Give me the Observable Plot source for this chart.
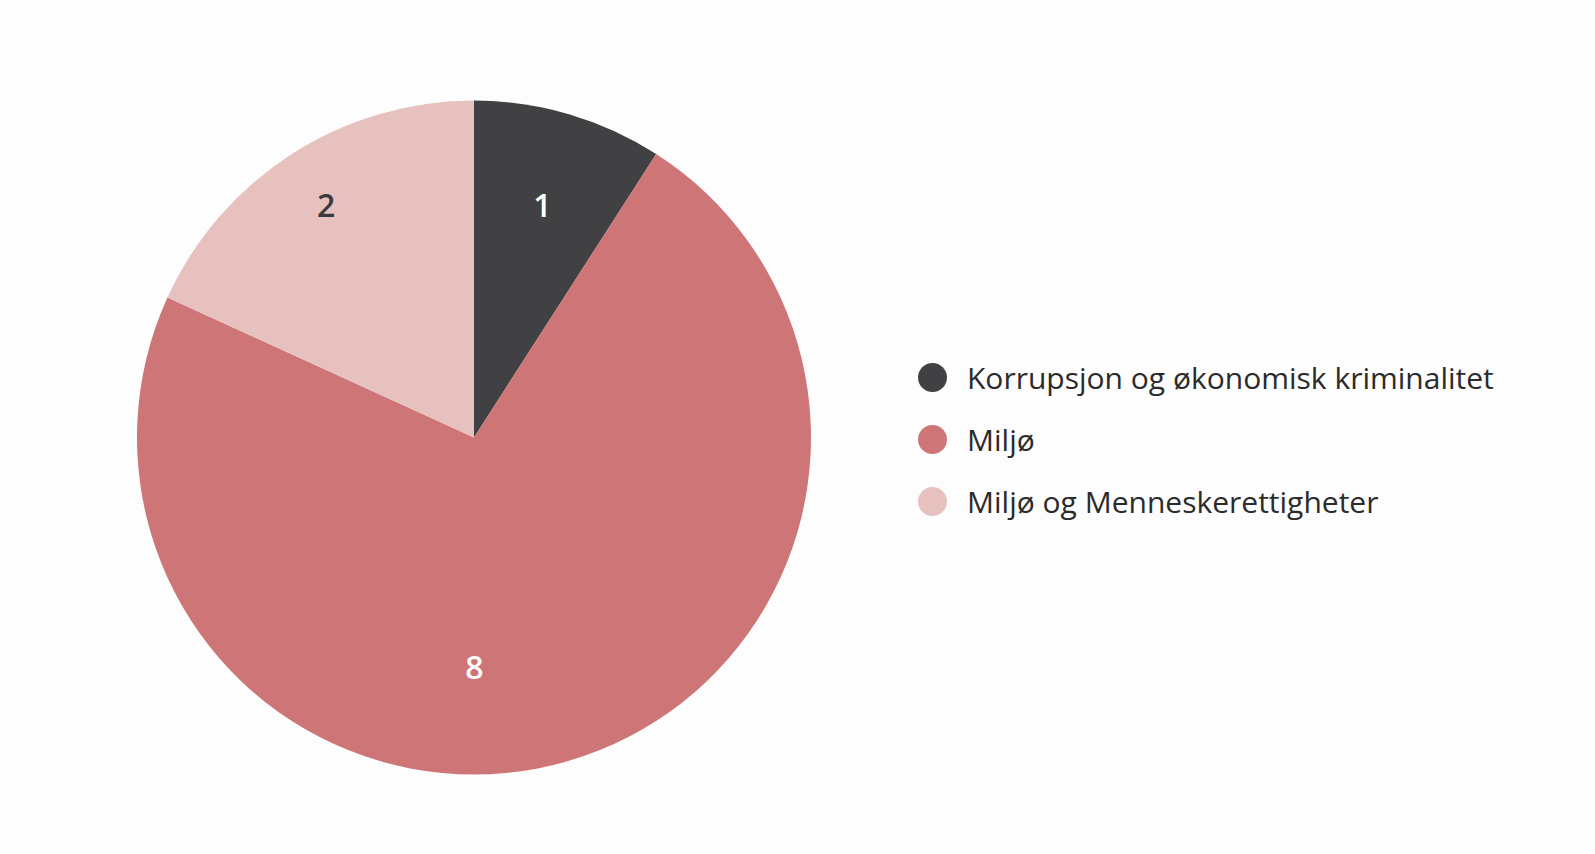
<!DOCTYPE html>
<html>
<head>
<meta charset="utf-8">
<script src="https://cdn.jsdelivr.net/npm/d3@7"></script>
<script src="https://cdn.jsdelivr.net/npm/@observablehq/plot@0.6"></script>
<style>
  html, body { margin: 0; padding: 0; background: #fdfdfd; }
  #wrap { position: relative; width: 1595px; height: 854px; font-family: "Open Sans", sans-serif; }
  #legend { position: absolute; left: 918px; top: 346px; color: #2b2b2b; font-size: 30px; }
  .row { display: flex; align-items: center; height: 62px; }
  .sw { width: 29px; height: 29px; border-radius: 50%; margin-right: 20px; flex: none; }
</style>
</head>
<body>
<div id="wrap"><div id="chart"></div><div id="legend"></div></div>
<script>
const categories = ["Korrupsjon og økonomisk kriminalitet", "Miljø", "Miljø og Menneskerettigheter"];
const values = [1, 8, 2];
const colors = ["#414143", "#ce7677", "#e7c1be"];
const labelColors = ["#ffffff", "#ffffff", "#3a3a3a"];

const data = categories.map((c, i) => ({category: c, value: values[i], labelColor: labelColors[i]}));
const arcs = d3.pie().sort(null).value(d => d.value)(data);

// label placement: along the slice's mid-angle ray, on a horizontal band at ±0.685 r;
// a slice spanning the bottom gets its label straight below the centre
const band = 0.685;
const labels = arcs.map(a => {
  const big = a.endAngle - a.startAngle > Math.PI && a.startAngle < Math.PI && a.endAngle > Math.PI;
  const ang = big ? Math.PI : (a.startAngle + a.endAngle) / 2;
  const k = band / Math.abs(Math.cos(ang));
  return {x: Math.sin(ang) * k, y: Math.cos(ang) * k, text: String(a.data.value), fill: a.data.labelColor};
});

function pieMark(index, scales, values_, dimensions, context) {
  const cx = scales.x(0), cy = scales.y(0);
  const r = scales.x(1) - scales.x(0);
  const arc = d3.arc().innerRadius(0).outerRadius(r);
  const g = d3.create("svg:g").attr("transform", `translate(${cx},${cy})`);
  g.selectAll("path").data(arcs).join("path")
    .attr("d", arc)
    .attr("fill", d => scales.color ? scales.color(d.data.category) : colors[d.index]);
  return g.node();
}

const chart = Plot.plot({
  width: 1595,
  height: 854,
  margin: 0,
  style: {background: "transparent", fontFamily: "Open Sans, sans-serif"},
  x: {domain: [-1, 1], range: [137, 811], axis: null},
  y: {domain: [-1, 1], range: [774.5, 100.5], axis: null},
  color: {domain: categories, range: colors},
  marks: [
    pieMark,
    Plot.text(labels, {x: "x", y: "y", text: "text", fill: "fill", fontSize: 32, fontWeight: 600})
  ]
});
document.getElementById("chart").appendChild(chart);

const legend = d3.select("#legend");
categories.forEach((c, i) => {
  const row = legend.append("div").attr("class", "row");
  row.append("div").attr("class", "sw").style("background", colors[i]);
  row.append("span").text(c);
});
</script>
</body>
</html>
